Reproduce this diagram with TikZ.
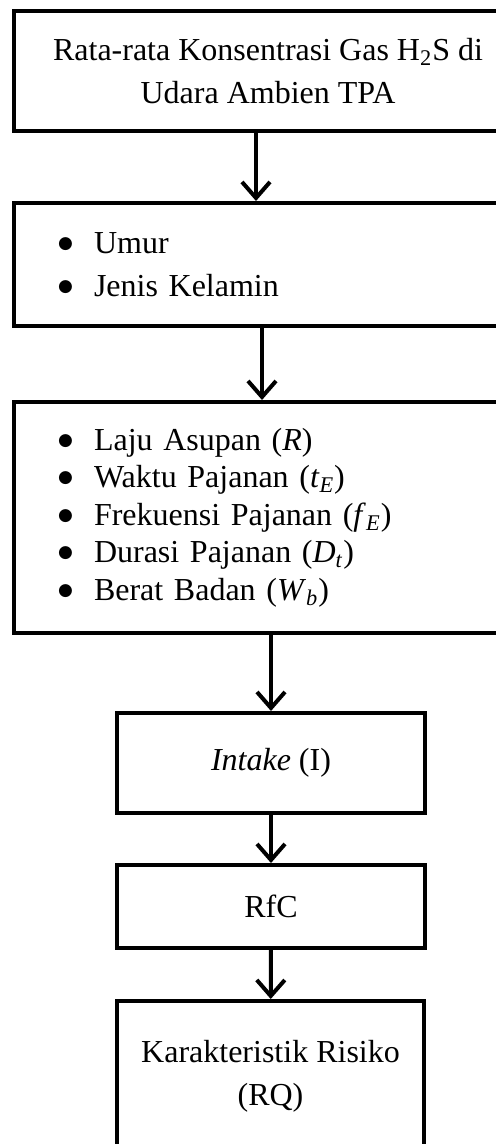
\documentclass[tikz,border=0pt]{standalone}
\usepackage{fontspec}
\setmainfont{Liberation Serif}
\newfontfamily\symfont{DejaVu Sans}
\usetikzlibrary{arrows.meta}
\tikzset{
every picture/.style={
line width=2pt
}}
\tikzset{
box/.style={draw, rectangle, inner sep=0pt, font=\fontsize{16pt}{21.5pt}\selectfont},
arr/.style={-{Straight Barb[length=8pt,width=14pt]}, line cap=round}
}
\newcommand{\itm}{\makebox[18pt][l]{\raisebox{2.5pt}{\fontsize{8.5pt}{8.5pt}\symfont ●}}}

\begin{document}
\begin{tikzpicture}[x=0.5pt,y=-0.5pt]
  \useasboundingbox (0,0) rectangle (496,1144);

  \node[box, minimum width=254pt, minimum height=60pt, align=center] (gas) at (268,71)
    {Rata-rata Konsentrasi Gas H\textsubscript{2}S di\\Udara Ambien TPA};
  \node[box, minimum width=254pt, minimum height=61.5pt, align=left, text width=210pt, inner xsep=22pt] (umur) at (268,264.5)
    {\itm Umur\\\itm Jenis Kelamin};
  \node[box, minimum width=254pt, minimum height=115.5pt, align=left, text width=210pt, inner xsep=22pt,
    font=\fontsize{16pt}{18.75pt}\selectfont] (param) at (268,517.5)
    {\itm Laju Asupan (\textit{R})\\
     \itm Waktu Pajanan (\textit{t}\textsubscript{\textit{E}})\\
     \itm Frekuensi Pajanan (\textit{f}\textsubscript{\textit{E}})\\
     \itm Durasi Pajanan (\textit{D}\textsubscript{\textit{t}})\\
     \itm Berat Badan (\textit{W}\textsubscript{\textit{b}})};
  \node[box, minimum width=154pt, minimum height=50pt] (intake) at (271,763) {\textit{Intake} (I)};
  \node[box, minimum width=154pt, minimum height=41.5pt] (rfc) at (271,906.5) {RfC};
  \node[box, minimum width=153.5pt, minimum height=75pt, align=center] (rq) at (270.5,1076)
    {Karakteristik Risiko\\(RQ)};

  % arrows between the boxes
  \draw[arr] ([xshift=-6pt]gas.south) -- ([xshift=-6pt]umur.north);
  \draw[arr] ([xshift=-3pt]umur.south) -- ([xshift=-3pt]param.north);
  \draw[arr] (param.south -| intake.north) -- (intake.north);
  \draw[arr] (intake) -- (rfc);
  \draw[arr] (rfc) -- (rq);
\end{tikzpicture}
\end{document}
